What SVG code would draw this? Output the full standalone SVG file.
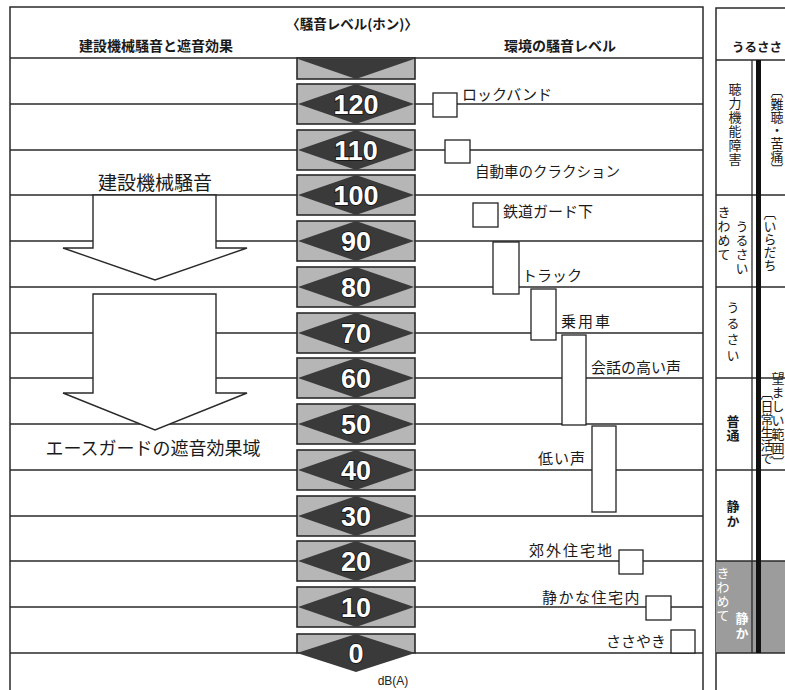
<svg xmlns="http://www.w3.org/2000/svg" width="785" height="690" viewBox="0 0 785 690">
<defs>
<style>
.ln{stroke:#2a2a2a;stroke-width:1.3;fill:none}
.frame{stroke:#2a2a2a;stroke-width:1.5;fill:none}
.box{fill:#b6b6b6;stroke:#2a2a2a;stroke-width:1.6}
.dia{fill:#3a3a3a}
.num{font-family:"Liberation Sans",Arial,sans-serif;font-weight:bold;font-size:27px;fill:#fff;stroke:#111;stroke-width:1.6;paint-order:stroke;text-anchor:middle}
.jp{font-family:"Noto Sans CJK JP","Noto Sans",sans-serif;fill:#1a1a1a}
.hd{font-size:14px;font-weight:bold;text-anchor:middle}
.lb{font-size:15px}
.big{font-size:19px;text-anchor:middle}
.sq{fill:#fff;stroke:#222;stroke-width:1.3}
.arrow{fill:#fff;stroke:#2a2a2a;stroke-width:1.4;stroke-linejoin:miter}
.vt{font-family:"Noto Sans CJK JP",sans-serif;writing-mode:vertical-rl;font-size:13px;fill:#1a1a1a}
</style>
</defs>
<rect width="785" height="690" fill="#fff"/>

<!-- table frames -->
<g id="frames">
<path class="frame" d="M10,700 V7 H703 V700"/>
<line class="frame" x1="10" y1="58" x2="703" y2="58"/>
<path class="frame" d="M716,700 V8 H790"/>
<line class="frame" x1="716" y1="60" x2="790" y2="60"/>
</g>

<!-- headers -->
<g id="headers">
<text class="jp hd" x="156" y="51">建設機械騒音と遮音効果</text>
<text class="jp" x="352" y="29" font-size="13.5" text-anchor="middle" font-weight="bold">〈騒音レベル(ホン)〉</text>
<text class="jp hd" x="560" y="51">環境の騒音レベル</text>
<text class="jp" x="757" y="52" font-size="12.5" text-anchor="middle" font-weight="bold">うるささ</text>
</g>

<!-- connectors: level lines -->
<g id="connectors">
<line class="ln" x1="10" y1="104" x2="297" y2="104"/><line class="ln" x1="415" y1="104" x2="703" y2="104"/>
<line class="ln" x1="10" y1="150" x2="297" y2="150"/><line class="ln" x1="415" y1="150" x2="703" y2="150"/>
<line class="ln" x1="10" y1="195" x2="297" y2="195"/><line class="ln" x1="415" y1="195" x2="703" y2="195"/>
<line class="ln" x1="10" y1="241" x2="297" y2="241"/><line class="ln" x1="415" y1="241" x2="703" y2="241"/>
<line class="ln" x1="10" y1="287" x2="297" y2="287"/><line class="ln" x1="415" y1="287" x2="703" y2="287"/>
<line class="ln" x1="10" y1="333" x2="297" y2="333"/><line class="ln" x1="415" y1="333" x2="703" y2="333"/>
<line class="ln" x1="10" y1="378" x2="297" y2="378"/><line class="ln" x1="415" y1="378" x2="703" y2="378"/>
<line class="ln" x1="10" y1="424" x2="297" y2="424"/><line class="ln" x1="415" y1="424" x2="703" y2="424"/>
<line class="ln" x1="10" y1="470" x2="297" y2="470"/><line class="ln" x1="415" y1="470" x2="703" y2="470"/>
<line class="ln" x1="10" y1="516" x2="297" y2="516"/><line class="ln" x1="415" y1="516" x2="703" y2="516"/>
<line class="ln" x1="10" y1="561" x2="297" y2="561"/><line class="ln" x1="415" y1="561" x2="703" y2="561"/>
<line class="ln" x1="10" y1="607" x2="297" y2="607"/><line class="ln" x1="415" y1="607" x2="703" y2="607"/>
<line class="ln" x1="10" y1="653" x2="297" y2="653"/><line class="ln" x1="415" y1="653" x2="703" y2="653"/>
</g>

<!-- left arrows -->
<g id="arrow-noise">
<polygon class="arrow" points="93,195 216,195 216,248 247,248 155,280 63,248 93,248"/>
<text class="jp big" x="155" y="190">建設機械騒音</text>
</g>
<g id="arrow-guard">
<polygon class="arrow" points="93,294 216,294 216,393 247,393 155,430 63,393 93,393"/>
<text class="jp" x="153" y="455" font-size="18" text-anchor="middle">エースガードの遮音効果域</text>
</g>

<!-- level scale -->
<g id="lvl-130"><rect class="box" x="297" y="58" width="118" height="21"/><polygon class="dia" points="298,59 414,59 356,79"/></g>
<g id="lvl-120"><rect class="box" x="297" y="84" width="118" height="40"/><polygon class="dia" points="298,104 356,84 414,104 356,124"/><text class="num" x="356" y="114">120</text></g>
<g id="lvl-110"><rect class="box" x="297" y="130" width="118" height="40"/><polygon class="dia" points="298,150 356,130 414,150 356,170"/><text class="num" x="356" y="160">110</text></g>
<g id="lvl-100"><rect class="box" x="297" y="175" width="118" height="40"/><polygon class="dia" points="298,195 356,175 414,195 356,215"/><text class="num" x="356" y="205">100</text></g>
<g id="lvl-90"><rect class="box" x="297" y="221" width="118" height="40"/><polygon class="dia" points="298,241 356,221 414,241 356,261"/><text class="num" x="356" y="251">90</text></g>
<g id="lvl-80"><rect class="box" x="297" y="267" width="118" height="40"/><polygon class="dia" points="298,287 356,267 414,287 356,307"/><text class="num" x="356" y="297">80</text></g>
<g id="lvl-70"><rect class="box" x="297" y="313" width="118" height="40"/><polygon class="dia" points="298,333 356,313 414,333 356,353"/><text class="num" x="356" y="343">70</text></g>
<g id="lvl-60"><rect class="box" x="297" y="358" width="118" height="40"/><polygon class="dia" points="298,378 356,358 414,378 356,398"/><text class="num" x="356" y="388">60</text></g>
<g id="lvl-50"><rect class="box" x="297" y="404" width="118" height="40"/><polygon class="dia" points="298,424 356,404 414,424 356,444"/><text class="num" x="356" y="434">50</text></g>
<g id="lvl-40"><rect class="box" x="297" y="450" width="118" height="40"/><polygon class="dia" points="298,470 356,450 414,470 356,490"/><text class="num" x="356" y="480">40</text></g>
<g id="lvl-30"><rect class="box" x="297" y="496" width="118" height="40"/><polygon class="dia" points="298,516 356,496 414,516 356,536"/><text class="num" x="356" y="526">30</text></g>
<g id="lvl-20"><rect class="box" x="297" y="541" width="118" height="40"/><polygon class="dia" points="298,561 356,541 414,561 356,581"/><text class="num" x="356" y="571">20</text></g>
<g id="lvl-10"><rect class="box" x="297" y="587" width="118" height="40"/><polygon class="dia" points="298,607 356,587 414,607 356,627"/><text class="num" x="356" y="617">10</text></g>
<g id="lvl-0"><rect class="box" x="297" y="634" width="118" height="19"/><polygon class="dia" points="297,653 356,634 415,653 356,672"/><text class="num" x="356" y="663">0</text></g>
<text x="393" y="685" font-family="Liberation Sans,Arial,sans-serif" font-size="12" fill="#222" text-anchor="middle">dB(A)</text>

<!-- environment noise items -->
<g id="env-rock"><rect class="sq" x="433" y="93" width="24" height="24"/><text class="jp lb" x="462" y="100">ロックバンド</text></g>
<g id="env-horn"><rect class="sq" x="445" y="140" width="25" height="23"/><text class="jp" x="475" y="177" font-size="14.5">自動車のクラクション</text></g>
<g id="env-rail"><rect class="sq" x="473" y="203" width="25" height="24"/><text class="jp lb" x="503" y="217">鉄道ガード下</text></g>
<g id="env-truck"><rect class="sq" x="493" y="242" width="26" height="52"/><text class="jp lb" x="522" y="281">トラック</text></g>
<g id="env-car"><rect class="sq" x="531" y="289" width="25" height="51"/><text class="jp lb" x="561" y="327" style="letter-spacing:2px">乗用車</text></g>
<g id="env-loud-voice"><rect class="sq" x="562" y="335" width="24" height="90"/><text class="jp lb" x="591" y="373">会話の高い声</text></g>
<g id="env-low-voice"><rect class="sq" x="592" y="426" width="24" height="86"/><text class="jp lb" x="586" y="464" text-anchor="end" style="letter-spacing:1px">低い声</text></g>
<g id="env-suburb"><rect class="sq" x="619" y="550" width="24" height="24"/><text class="jp lb" x="614" y="556" text-anchor="end" style="letter-spacing:2px">郊外住宅地</text></g>
<g id="env-quiet-home"><rect class="sq" x="646" y="596" width="25" height="24"/><text class="jp lb" x="641" y="603" text-anchor="end" style="letter-spacing:1.5px">静かな住宅内</text></g>
<g id="env-whisper"><rect class="sq" x="671" y="630" width="24" height="23"/><text class="jp lb" x="666" y="647" text-anchor="end">ささやき</text></g>

<!-- loudness table -->
<g id="loudness">
<rect x="716" y="561" width="75" height="92" fill="#9c9c9c"/>
<line class="ln" x1="716" y1="195" x2="790" y2="195"/>
<line class="ln" x1="716" y1="287" x2="790" y2="287"/>
<line class="ln" x1="716" y1="378" x2="790" y2="378"/>
<line class="ln" x1="716" y1="470" x2="790" y2="470"/>
<line class="ln" x1="716" y1="561" x2="790" y2="561"/>
<line class="ln" x1="716" y1="653" x2="790" y2="653"/>
<line class="ln" x1="752" y1="60" x2="752" y2="653"/>
<rect x="756" y="60" width="5" height="593" fill="#111"/>
</g>
<g id="loud-1"><text class="vt" x="777" y="85" font-size="12.5">〔難聴・苦痛〕</text><text class="vt" x="735" y="83" style="letter-spacing:1px">聴力機能障害</text></g>
<g id="loud-2"><text class="vt" x="724" y="206" style="letter-spacing:1px">きわめて</text><text class="vt" x="742" y="220" style="letter-spacing:1px">うるさい</text><text class="vt" x="770" y="207" font-size="12">〔いらだち</text></g>
<g id="loud-3"><text class="vt" x="733" y="301" style="letter-spacing:3px">うるさい</text></g>
<g id="loud-4"><text class="vt" x="733" y="415" font-weight="bold" style="letter-spacing:1px">普通</text><text class="vt" x="767" y="387" font-size="11">〔日常生活で</text><text class="vt" x="778" y="372" font-size="9.5" style="letter-spacing:1px">望ましい範囲〕</text></g>
<g id="loud-5"><text class="vt" x="733" y="500" font-weight="bold" style="letter-spacing:2px">静か</text></g>
<g id="loud-6"><text class="vt" x="723" y="567" font-size="14" style="fill:#fff;letter-spacing:1px">きわめて</text><text class="vt" x="742" y="612" font-size="14" font-weight="bold" style="fill:#fff;letter-spacing:2px">静か</text></g>
</svg>
